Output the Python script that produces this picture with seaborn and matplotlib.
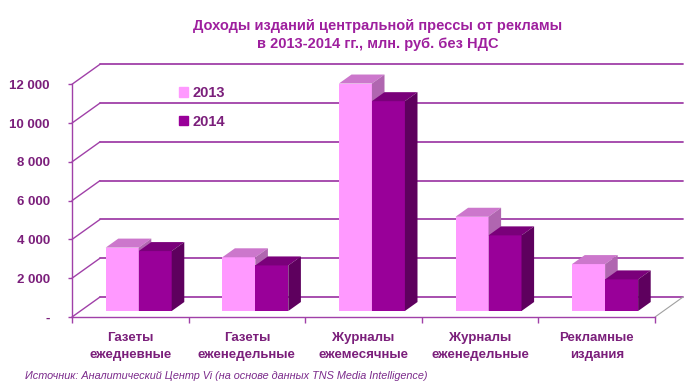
import matplotlib
matplotlib.use('Agg')
import matplotlib.pyplot as plt
import matplotlib.patches as mpatches
import seaborn as sns
import pandas as pd

# Данные (млн. руб. без НДС)
categories = ['Газеты\nежедневные', 'Газеты\nеженедельные', 'Журналы\nежемесячные',
              'Журналы\nеженедельные', 'Рекламные\nиздания']
years = ['2013', '2014']
values_2013 = [3270, 2770, 11730, 4860, 2420]
values_2014 = [3090, 2350, 10820, 3900, 1630]
y_ticks = [0, 2000, 4000, 6000, 8000, 10000, 12000]
y_tick_labels = ['-', '2 000', '4 000', '6 000', '8 000', '10 000', '12 000']

title = 'Доходы изданий центральной прессы от рекламы\nв 2013-2014 гг., млн. руб. без НДС'
source = 'Источник: Аналитический Центр Vi (на основе данных TNS Media Intelligence)'

df = pd.DataFrame({
    'Категория': categories * 2,
    'Год': [years[0]] * len(categories) + [years[1]] * len(categories),
    'Доход': values_2013 + values_2014,
})

# цвета граней: фронт, верх, бок
front = ['#FF99FF', '#990099']
top = ['#CC77CC', '#7A007A']
side = ['#B066B0', '#5E005E']
grid_c = '#A040A8'
text_c = '#7B1F7B'

sns.set_style('white')
plt.rcParams['font.family'] = ['Liberation Sans Narrow', 'Liberation Sans', 'DejaVu Sans']

fig = plt.figure(figsize=(7, 3.91), dpi=100)
ax = fig.add_axes([72 / 700, 74 / 391, 618 / 700, 256 / 391])

sns.barplot(data=df, x='Категория', y='Доход', hue='Год', palette=front,
            width=0.566, gap=0, saturation=1, edgecolor='none', legend=False, ax=ax)

ax.set_xlim(-0.5, 4.8)
ax.set_ylim(0, 13200)

# псевдо-3D: глубина стенки и положение столбцов в ней
DX, DY = 0.24, 1030
f0, f1 = 0.3, 0.75

for h, cont in enumerate(ax.containers):
    for p in cont.patches:
        x0 = p.get_x() + f0 * DX
        y0 = f0 * DY
        w = p.get_width()
        hh = p.get_height()
        p.set_x(x0)
        p.set_y(y0)
        p.set_zorder(3 + 3 * h)
        ddx, ddy = (f1 - f0) * DX, (f1 - f0) * DY
        ax.add_patch(mpatches.Polygon(
            [(x0, y0 + hh), (x0 + w, y0 + hh), (x0 + w + ddx, y0 + hh + ddy), (x0 + ddx, y0 + hh + ddy)],
            closed=True, facecolor=top[h], edgecolor='none', zorder=4 + 3 * h))
        ax.add_patch(mpatches.Polygon(
            [(x0 + w, y0), (x0 + w + ddx, y0 + ddy), (x0 + w + ddx, y0 + hh + ddy), (x0 + w, y0 + hh)],
            closed=True, facecolor=side[h], edgecolor='none', zorder=4 + 3 * h))

# задняя стенка и левая стенка
for v in y_ticks:
    ax.plot([-0.5 + DX, 4.5 + DX], [v + DY, v + DY], color=grid_c, lw=1.3, zorder=1, clip_on=False)
    ax.plot([-0.5, -0.5 + DX], [v, v + DY], color=grid_c, lw=1.0, zorder=1, clip_on=False)
ax.plot([4.5, 4.5 + DX], [0, DY], color='#A0A0A0', lw=0.8, zorder=1, clip_on=False)

# оси
sns.despine(ax=ax, top=True, right=True)
ax.spines['left'].set_bounds(0, 12000)
ax.spines['bottom'].set_bounds(-0.5, 4.5)
for s in ['left', 'bottom']:
    ax.spines[s].set_color(grid_c)
    ax.spines[s].set_linewidth(1.0)

ax.set_yticks(y_ticks, y_tick_labels)
ax.set_xticks(range(len(categories)), categories)
ax.set_xticks([i - 0.5 for i in range(len(categories) + 1)], minor=True)
ax.tick_params(axis='y', left=True, length=3, width=1, color=grid_c, pad=13,
               labelcolor=text_c, labelsize=9.5)
ax.tick_params(axis='x', which='major', bottom=False, length=0, pad=11,
               labelcolor=text_c, labelsize=9.5)
ax.tick_params(axis='x', which='minor', bottom=True, length=4, width=1, color=grid_c)
for lab in ax.get_yticklabels():
    lab.set_fontweight('bold')
for lab in ax.get_xticklabels():
    lab.set_fontweight('bold')
    lab.set_linespacing(1.5)
ax.set_xlabel('')
ax.set_ylabel('')

handles = [mpatches.Patch(color=c) for c in front]
leg = fig.legend(handles, years, loc='upper left', bbox_to_anchor=(166 / 700, 1 - 73 / 391),
                 frameon=False, handlelength=0.6, handleheight=0.6, handletextpad=0.35,
                 labelspacing=1.0, prop={'weight': 'bold', 'size': 10.5})
for t in leg.get_texts():
    t.set_color(text_c)

fig.text(378 / 700, 1 - 35 / 391, title, ha='center', va='center', color='#9E1F9E',
         fontsize=10.5, fontweight='bold', linespacing=1.35)
fig.text(25 / 700, 1 - 376 / 391, source, ha='left', va='center', color='#7B2A8B',
         fontsize=7.8, style='italic')

fig.savefig('out.png', dpi=100)
plt.close(fig)
